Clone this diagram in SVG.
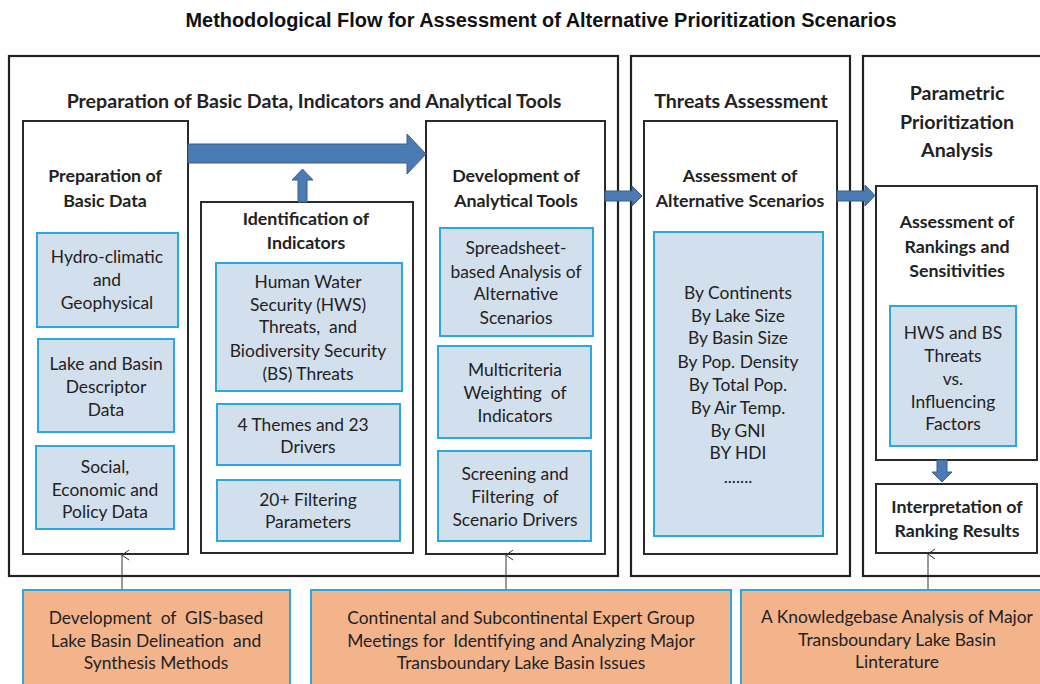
<svg xmlns="http://www.w3.org/2000/svg" width="1040" height="684" viewBox="0 0 1040 684">
<defs>
<style>
.outer{fill:#fff;stroke:#222;stroke-width:2.2}
.inner{fill:#fff;stroke:#2a2a2a;stroke-width:2}
.blue{fill:#d2dfec;stroke:#2aa8e0;stroke-width:2}
.orange{fill:#f3b48b;stroke:#2aa8e0;stroke-width:2}
.big{fill:#4b7bb3;stroke:#3a5f8c;stroke-width:1}
.thin{fill:none;stroke:#333;stroke-width:1}
text{font-family:Lato,"Liberation Sans",sans-serif;fill:#222;text-anchor:middle;white-space:pre}
.t{font-family:"Liberation Sans",Arial,sans-serif;font-weight:bold;font-size:19.5px;fill:#111}
.h{font-weight:bold;font-size:19.6px}
.s{font-weight:bold;font-size:17.8px}
.r{font-size:17.4px}
</style>
<marker id="open" viewBox="0 0 12 12" refX="6" refY="1" markerWidth="12" markerHeight="12" markerUnits="userSpaceOnUse" orient="auto-start-reverse">
<path d="M1,8 L6,1 L11,8" fill="none" stroke="#333" stroke-width="1"/>
</marker>
</defs>
<rect width="1040" height="684" fill="#fff"/>
<text class="t" x="541" y="27" textLength="711" lengthAdjust="spacingAndGlyphs">Methodological Flow for Assessment of Alternative Prioritization Scenarios</text>

<g id="stage1">
<rect class="outer" x="9" y="56" width="609" height="520"/>
<text class="h" x="314" y="108">Preparation of Basic Data, Indicators and Analytical Tools</text>
</g>
<g id="stage2">
<rect class="outer" x="631" y="56" width="219" height="520"/>
<text class="h" x="741" y="108">Threats Assessment</text>
</g>
<g id="stage3">
<rect class="outer" x="863" y="56" width="190" height="520"/>
<text class="h" x="957" y="100">Parametric</text>
<text class="h" x="957" y="129">Prioritization</text>
<text class="h" x="957" y="157">Analysis</text>
</g>

<g id="prep-basic-data">
<rect class="inner" x="23" y="121" width="165" height="433"/>
<text class="s" x="105" y="182">Preparation of</text>
<text class="s" x="105" y="207">Basic Data</text>
</g>
<g id="hydro">
<rect class="blue" x="37" y="233" width="141" height="94"/>
<text class="r" x="107" y="263">Hydro-climatic</text>
<text class="r" x="107" y="286">and</text>
<text class="r" x="107" y="309">Geophysical</text>
</g>
<g id="lake-basin">
<rect class="blue" x="38" y="339" width="136" height="93"/>
<text class="r" x="106" y="370">Lake and Basin</text>
<text class="r" x="106" y="393">Descriptor</text>
<text class="r" x="106" y="416">Data</text>
</g>
<g id="social">
<rect class="blue" x="36" y="446" width="138" height="83"/>
<text class="r" x="105" y="473">Social,</text>
<text class="r" x="105" y="496">Economic and</text>
<text class="r" x="105" y="518">Policy Data</text>
</g>

<g id="identification">
<rect class="inner" x="201" y="202" width="212" height="351"/>
<text class="s" x="306" y="225">Identification of</text>
<text class="s" x="306" y="249">Indicators</text>
</g>
<g id="hws-bs">
<rect class="blue" x="216" y="263" width="186" height="128"/>
<text class="r" x="308" y="288">Human Water</text>
<text class="r" x="308" y="311">Security (HWS)</text>
<text class="r" x="308" y="333">Threats,  and</text>
<text class="r" x="308" y="357">Biodiversity Security</text>
<text class="r" x="308" y="380">(BS) Threats</text>
</g>
<g id="themes">
<rect class="blue" x="217" y="404" width="183" height="61"/>
<text class="r" x="303" y="431">4 Themes and 23</text>
<text class="r" x="308" y="453">Drivers</text>
</g>
<g id="filtering">
<rect class="blue" x="217" y="480" width="183" height="61"/>
<text class="r" x="308" y="506">20+ Filtering</text>
<text class="r" x="308" y="528">Parameters</text>
</g>

<g id="dev-tools">
<rect class="inner" x="426" y="121" width="179" height="433"/>
<text class="s" x="516" y="182">Development of</text>
<text class="s" x="516" y="207">Analytical Tools</text>
</g>
<g id="spreadsheet">
<rect class="blue" x="440" y="228" width="153" height="108"/>
<text class="r" x="516" y="254">Spreadsheet-</text>
<text class="r" x="516" y="278">based Analysis of</text>
<text class="r" x="516" y="300">Alternative</text>
<text class="r" x="516" y="324">Scenarios</text>
</g>
<g id="multicriteria">
<rect class="blue" x="438" y="346" width="153" height="92"/>
<text class="r" x="515" y="376">Multicriteria</text>
<text class="r" x="515" y="399">Weighting  of</text>
<text class="r" x="515" y="422">Indicators</text>
</g>
<g id="screening">
<rect class="blue" x="438" y="451" width="153" height="90"/>
<text class="r" x="515" y="480">Screening and</text>
<text class="r" x="515" y="503">Filtering  of</text>
<text class="r" x="515" y="526">Scenario Drivers</text>
</g>

<g id="alt-scenarios">
<rect class="inner" x="644" y="121" width="193" height="433"/>
<text class="s" x="740" y="182">Assessment of</text>
<text class="s" x="740" y="207">Alternative Scenarios</text>
</g>
<g id="scenario-list">
<rect class="blue" x="654" y="232" width="169" height="304"/>
<text class="r" x="738" y="299">By Continents</text>
<text class="r" x="738" y="322">By Lake Size</text>
<text class="r" x="738" y="344">By Basin Size</text>
<text class="r" x="738" y="368">By Pop. Density</text>
<text class="r" x="738" y="391">By Total Pop.</text>
<text class="r" x="738" y="414">By Air Temp.</text>
<text class="r" x="738" y="437">By GNI</text>
<text class="r" x="738" y="459">BY HDI</text>
<text class="r" x="738" y="483">.......</text>
</g>

<g id="rankings">
<rect class="inner" x="876" y="186" width="161" height="274"/>
<text class="s" x="957" y="228">Assessment of</text>
<text class="s" x="957" y="253">Rankings and</text>
<text class="s" x="957" y="277">Sensitivities</text>
</g>
<g id="hws-vs">
<rect class="blue" x="890" y="306" width="126" height="140"/>
<text class="r" x="953" y="339">HWS and BS</text>
<text class="r" x="953" y="362">Threats</text>
<text class="r" x="953" y="385">vs.</text>
<text class="r" x="953" y="408">Influencing</text>
<text class="r" x="953" y="430">Factors</text>
</g>
<g id="interpretation">
<rect class="inner" x="876" y="484" width="161" height="69"/>
<text class="s" x="957" y="513">Interpretation of</text>
<text class="s" x="957" y="537">Ranking Results</text>
</g>

<g id="gis">
<rect class="orange" x="23" y="590" width="267" height="100"/>
<text class="r" x="156" y="624">Development  of  GIS-based</text>
<text class="r" x="156" y="647">Lake Basin Delineation  and</text>
<text class="r" x="156" y="669">Synthesis Methods</text>
</g>
<g id="expert">
<rect class="orange" x="311" y="590" width="420" height="100"/>
<text class="r" x="521" y="624">Continental and Subcontinental Expert Group</text>
<text class="r" x="521" y="647">Meetings for  Identifying and Analyzing Major</text>
<text class="r" x="521" y="669">Transboundary Lake Basin Issues</text>
</g>
<g id="knowledgebase">
<rect class="orange" x="741" y="590" width="310" height="100"/>
<text class="r" x="897" y="623">A Knowledgebase Analysis of Major</text>
<text class="r" x="897" y="646">Transboundary Lake Basin</text>
<text class="r" x="897" y="668">Linterature</text>
</g>

<g id="connectors">
<path class="big" d="M188,144 H407 V134 L426,154 L407,174 V163 H188 Z"/>
<path class="big" d="M298,202 V180 H292 L302.5,169 L313,180 H307 V202 Z"/>
<path class="big" d="M605,191 H632 V186 L642,196 L632,206 V201 H605 Z"/>
<path class="big" d="M837,191 H865 V185 L875,195.5 L865,206 V201 H837 Z"/>
<path class="big" d="M937,460 V472 H932 L942,482 L952,472 H947 V460 Z"/>
<line class="thin" x1="122" y1="589" x2="122" y2="555" marker-end="url(#open)"/>
<line class="thin" x1="506" y1="589" x2="506" y2="555" marker-end="url(#open)"/>
<line class="thin" x1="928" y1="589" x2="928" y2="554" marker-end="url(#open)"/>
</g>
</svg>
